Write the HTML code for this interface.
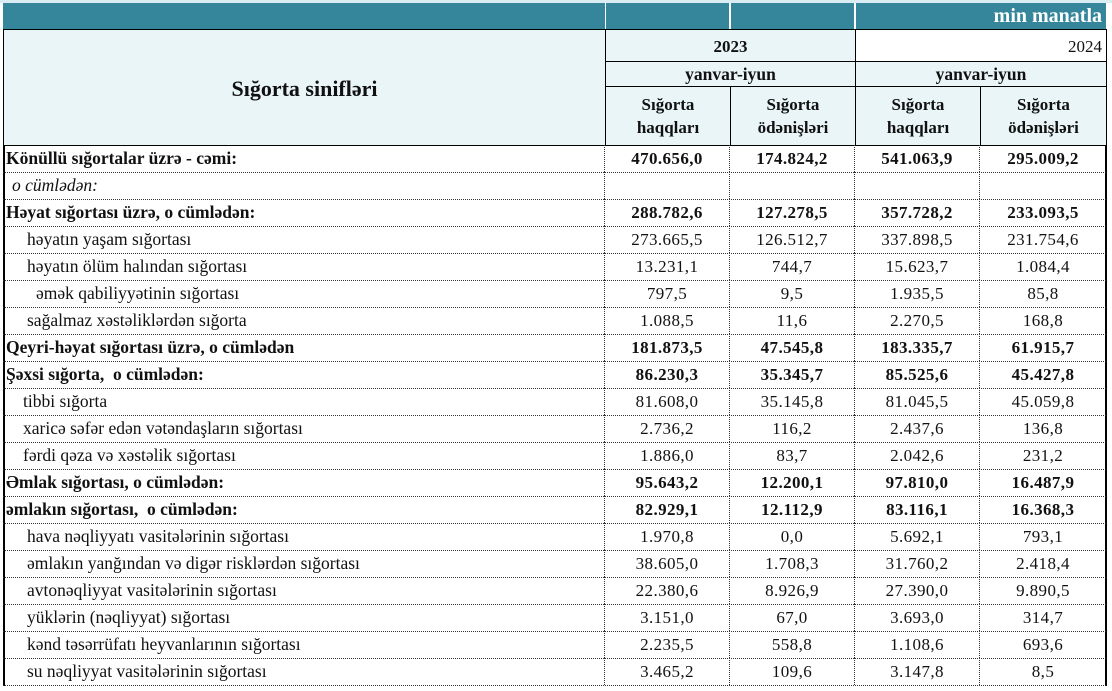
<!DOCTYPE html>
<html><head><meta charset="utf-8"><style>
body{margin:0;width:1112px;height:691px;background:#fff;position:relative;overflow:hidden;font-family:"Liberation Serif",serif;color:#111}
.a{position:absolute;box-sizing:border-box}
.bar{left:3px;top:3px;height:26px;background:#35869b}
.hd{background:#eaf5f8;border:1px solid #000}
.r{position:absolute;left:3px;width:1103px;height:27px;display:flex;border-bottom:1px dotted #333;font-size:17.5px;line-height:27px}
.r div{box-sizing:border-box;height:27px}
.r .l{width:602px;padding-left:3px;border-right:1px dotted #333;white-space:nowrap}
.r .n{width:125px;text-align:center;border-right:1px dotted #333;font-size:17px;letter-spacing:0.4px}
.r .n:last-child{width:126px;border-right:none}
.b{font-weight:bold}
</style></head><body>
<div class="a" style="left:0;top:0;width:1112px;height:3px;background:#d9edf3"></div>
<div class="a bar" style="width:602px"></div>
<div class="a bar" style="left:606px;width:123px"></div>
<div class="a bar" style="left:731px;width:123px"></div>
<div class="a bar" style="left:856px;width:250px;color:#fff;font-weight:bold;font-size:20px;text-align:right;padding-right:4px;line-height:26px">min manatla</div>
<div class="a hd" style="left:3px;top:29px;width:603px;height:117px;font-weight:bold;font-size:22px;text-align:center;line-height:117px">Sığorta sinifləri</div>
<div class="a hd" style="left:605px;top:29px;width:251px;height:33px;font-weight:bold;font-size:17px;text-align:center;line-height:33px">2023</div>
<div class="a" style="left:855px;top:29px;width:252px;height:33px;border:1px solid #000;background:#fff;font-size:17px;text-align:right;padding-right:4px;line-height:33px">2024</div>
<div class="a hd" style="left:605px;top:61px;width:251px;height:26px;font-weight:bold;font-size:17.5px;text-align:center;line-height:24px">yanvar-iyun</div>
<div class="a hd" style="left:855px;top:61px;width:252px;height:26px;font-weight:bold;font-size:17.5px;text-align:center;line-height:24px">yanvar-iyun</div>
<div class="a hd" style="left:605px;top:86px;width:126px;height:60px;font-weight:bold;font-size:17px;text-align:center;line-height:23px;padding-top:6px">Sığorta<br>haqqları</div>
<div class="a hd" style="left:730px;top:86px;width:126px;height:60px;font-weight:bold;font-size:17px;text-align:center;line-height:23px;padding-top:6px">Sığorta<br>ödənişləri</div>
<div class="a hd" style="left:855px;top:86px;width:126px;height:60px;font-weight:bold;font-size:17px;text-align:center;line-height:23px;padding-top:6px">Sığorta<br>haqqları</div>
<div class="a hd" style="left:980px;top:86px;width:127px;height:60px;font-weight:bold;font-size:17px;text-align:center;line-height:23px;padding-top:6px">Sığorta<br>ödənişləri</div>
<div class="a" style="left:3px;top:145px;width:2px;height:541px;background:#000"></div>
<div class="a" style="left:1105px;top:145px;width:2px;height:541px;background:#000"></div>

<div class="r b" style="top:145px"><div class="l">Könüllü sığortalar üzrə - cəmi:</div><div class="n">470.656,0</div><div class="n">174.824,2</div><div class="n">541.063,9</div><div class="n">295.009,2</div></div>
<div class="r" style="top:172px"><div class="l" style="padding-left:9px;font-style:italic">o cümlədən:</div><div class="n"></div><div class="n"></div><div class="n"></div><div class="n"></div></div>
<div class="r b" style="top:199px"><div class="l">Həyat sığortası üzrə, o cümlədən:</div><div class="n">288.782,6</div><div class="n">127.278,5</div><div class="n">357.728,2</div><div class="n">233.093,5</div></div>
<div class="r" style="top:226px"><div class="l" style="padding-left:24px">həyatın yaşam sığortası</div><div class="n">273.665,5</div><div class="n">126.512,7</div><div class="n">337.898,5</div><div class="n">231.754,6</div></div>
<div class="r" style="top:253px"><div class="l" style="padding-left:24px">həyatın ölüm halından sığortası</div><div class="n">13.231,1</div><div class="n">744,7</div><div class="n">15.623,7</div><div class="n">1.084,4</div></div>
<div class="r" style="top:280px"><div class="l" style="padding-left:33px">əmək qabiliyyətinin sığortası</div><div class="n">797,5</div><div class="n">9,5</div><div class="n">1.935,5</div><div class="n">85,8</div></div>
<div class="r" style="top:307px"><div class="l" style="padding-left:24px">sağalmaz xəstəliklərdən sığorta</div><div class="n">1.088,5</div><div class="n">11,6</div><div class="n">2.270,5</div><div class="n">168,8</div></div>
<div class="r b" style="top:334px"><div class="l">Qeyri-həyat sığortası üzrə, o cümlədən</div><div class="n">181.873,5</div><div class="n">47.545,8</div><div class="n">183.335,7</div><div class="n">61.915,7</div></div>
<div class="r b" style="top:361px"><div class="l">Şəxsi sığorta,&nbsp; o cümlədən:</div><div class="n">86.230,3</div><div class="n">35.345,7</div><div class="n">85.525,6</div><div class="n">45.427,8</div></div>
<div class="r" style="top:388px"><div class="l" style="padding-left:20px">tibbi sığorta</div><div class="n">81.608,0</div><div class="n">35.145,8</div><div class="n">81.045,5</div><div class="n">45.059,8</div></div>
<div class="r" style="top:415px"><div class="l" style="padding-left:20px">xaricə səfər edən vətəndaşların sığortası</div><div class="n">2.736,2</div><div class="n">116,2</div><div class="n">2.437,6</div><div class="n">136,8</div></div>
<div class="r" style="top:442px"><div class="l" style="padding-left:20px">fərdi qəza və xəstəlik sığortası</div><div class="n">1.886,0</div><div class="n">83,7</div><div class="n">2.042,6</div><div class="n">231,2</div></div>
<div class="r b" style="top:469px"><div class="l">Əmlak sığortası, o cümlədən:</div><div class="n">95.643,2</div><div class="n">12.200,1</div><div class="n">97.810,0</div><div class="n">16.487,9</div></div>
<div class="r b" style="top:496px"><div class="l">əmlakın sığortası,&nbsp; o cümlədən:</div><div class="n">82.929,1</div><div class="n">12.112,9</div><div class="n">83.116,1</div><div class="n">16.368,3</div></div>
<div class="r" style="top:523px"><div class="l" style="padding-left:24px">hava nəqliyyatı vasitələrinin sığortası</div><div class="n">1.970,8</div><div class="n">0,0</div><div class="n">5.692,1</div><div class="n">793,1</div></div>
<div class="r" style="top:550px"><div class="l" style="padding-left:24px">əmlakın yanğından və digər risklərdən sığortası</div><div class="n">38.605,0</div><div class="n">1.708,3</div><div class="n">31.760,2</div><div class="n">2.418,4</div></div>
<div class="r" style="top:577px"><div class="l" style="padding-left:24px">avtonəqliyyat vasitələrinin sığortası</div><div class="n">22.380,6</div><div class="n">8.926,9</div><div class="n">27.390,0</div><div class="n">9.890,5</div></div>
<div class="r" style="top:604px"><div class="l" style="padding-left:24px">yüklərin (nəqliyyat) sığortası</div><div class="n">3.151,0</div><div class="n">67,0</div><div class="n">3.693,0</div><div class="n">314,7</div></div>
<div class="r" style="top:631px"><div class="l" style="padding-left:24px">kənd təsərrüfatı heyvanlarının sığortası</div><div class="n">2.235,5</div><div class="n">558,8</div><div class="n">1.108,6</div><div class="n">693,6</div></div>
<div class="r" style="top:658px"><div class="l" style="padding-left:24px">su nəqliyyat vasitələrinin sığortası</div><div class="n">3.465,2</div><div class="n">109,6</div><div class="n">3.147,8</div><div class="n">8,5</div></div>
</body></html>
